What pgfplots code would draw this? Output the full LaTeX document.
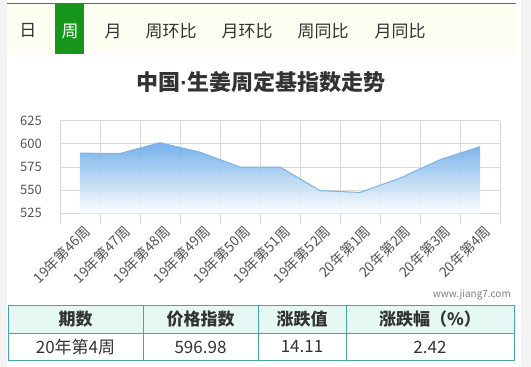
\documentclass[border=0pt]{standalone}
\usepackage{fontspec}
\setmainfont{Noto Sans CJK SC}
\newfontfamily\latin{Liberation Sans}
\usepackage{pgfplots}
\pgfplotsset{compat=1.18}
\definecolor{bggray}{HTML}{F3F3F3}
\definecolor{tabbg}{HTML}{FDFDF1}
\definecolor{tabgreen}{HTML}{16961A}
\definecolor{topgreen}{HTML}{1E9A22}
\definecolor{txt}{HTML}{333333}
\definecolor{ticktxt}{HTML}{555555}
\definecolor{gridc}{HTML}{D9D9D9}
\definecolor{linec}{HTML}{7AB4EA}
\definecolor{fillc}{HTML}{68A8E8}
\definecolor{teal}{HTML}{45A89E}
\definecolor{mint}{HTML}{E6F8F3}
\begin{document}
\begin{tikzpicture}
\begin{scope}[x=1pt,y=-1pt]
\fill[bggray] (0,0) rectangle (531,367);
\fill[white] (7,0) rectangle (521,367);
\fill[tabbg] (7,4) rectangle (516,54);
\draw[topgreen, line width=1.6pt] (7,3.5)--(516,3.5);
\fill[tabgreen] (55,3) rectangle (84,54);
\begin{scope}[every node/.style={font=\fontsize{17}{17}\selectfont, inner sep=0pt}]
\node[txt] at (28,31) {日};
\node[white] at (70,31) {周};
\node[txt] at (113,31) {月};
\node[txt] at (171,31) {周环比};
\node[txt] at (247,31) {月环比};
\node[txt] at (323,31) {周同比};
\node[txt] at (400,31) {月同比};
\end{scope}
\node[txt, font=\fontsize{22}{22}\selectfont\bfseries, inner sep=0pt] at (261,82) {中国{\latin ·}生姜周定基指数走势};
\node[gray, font=\fontsize{10}{10}\selectfont, inner sep=0pt, anchor=east] at (511,295) {www.jiang7.com};
% table
\fill[mint] (8,305) rectangle (514,333.5);
\draw[teal, line width=1pt] (8,305) rectangle (514,360);
\draw[teal, line width=1pt] (8,333.5)--(514,333.5);
\foreach \x in {143,258,346} \draw[teal, line width=1pt] (\x,305)--(\x,360);
\begin{scope}[every node/.style={inner sep=0pt}]
\node[txt, font=\fontsize{17}{17}\selectfont\bfseries] at (75.5,319.5) {期数};
\node[txt, font=\fontsize{17}{17}\selectfont\bfseries] at (200.5,319.5) {价格指数};
\node[txt, font=\fontsize{17}{17}\selectfont\bfseries] at (302,319.5) {涨跌值};
\node[txt, font=\fontsize{17}{17}\selectfont\bfseries] at (430,319.5) {涨跌幅（\%）};
\node[txt, font=\fontsize{17}{17}\selectfont] at (75.5,347) {20年第4周};
\node[txt, font=\fontsize{17}{17}\selectfont] at (200.5,347) {596.98};
\node[txt, font=\fontsize{17}{17}\selectfont] at (302,347) {14.11};
\node[txt, font=\fontsize{17}{17}\selectfont] at (430,347) {2.42};
\end{scope}
\end{scope}
\begin{axis}[
  at={(60pt,-223.5pt)}, anchor=south west,
  scale only axis, width=440pt, height=102.8pt,
  xmin=-0.5, xmax=10.5, ymin=514, ymax=625,
  axis line style={draw=none},
  major tick length=0pt, minor tick length=0pt,
  xtick={0,...,10},
  minor xtick={-0.5,0.5,...,10.5},
  xminorgrids=true,
  ytick={525,550,575,600,625},
  ymajorgrids=true,
  grid style={gridc, line width=0.9pt},
  minor grid style={gridc, line width=0.9pt},
  xticklabels={19年第46周,19年第47周,19年第48周,19年第49周,19年第50周,19年第51周,19年第52周,20年第1周,20年第2周,20年第3周,20年第4周},
  xticklabel style={rotate=45, anchor=east, font=\fontsize{14}{14}\selectfont, text=ticktxt, inner sep=0pt, xshift=2pt, yshift=-9pt},
  yticklabel style={font=\fontsize{13}{13}\selectfont, text=ticktxt, inner sep=0pt, xshift=-18pt, anchor=east},
  /pgf/number format/assume math mode=true,
  clip=false,
]
\addplot[draw=none, top color=fillc, bottom color=white, fill opacity=0.9] coordinates {
(0,525) (0,590) (1,589.6) (2,601.3) (3,591) (4,575) (5,575) (6,549.5) (7,547.5) (8,563) (9,582.87) (10,596.98) (10,525)} -- cycle;
\addplot[linec, line width=1pt] coordinates {
(0,590) (1,589.6) (2,601.3) (3,591) (4,575) (5,575) (6,549.5) (7,547.5) (8,563) (9,582.87) (10,596.98)};
\end{axis}
\end{tikzpicture}
\end{document}
